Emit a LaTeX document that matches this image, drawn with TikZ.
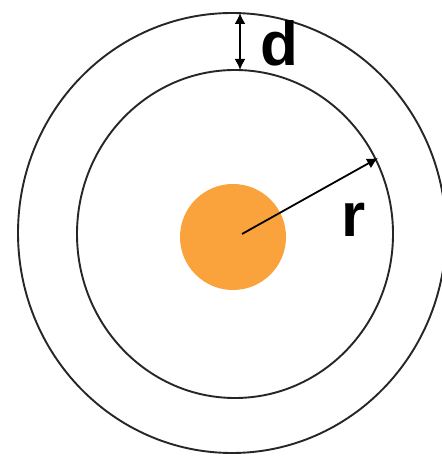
\documentclass[tikz,border=0pt]{standalone}
\usepackage{fontspec}
\setmainfont{Liberation Sans}
\usetikzlibrary{arrows.meta}
\definecolor{sunorange}{RGB}{250,162,60}
\tikzset{tipshape/.tip={Latex[length=11pt,width=11pt]}}
\begin{document}
\begin{tikzpicture}[x=1pt,y=1pt,
  ring/.style={draw=black!85,line width=1.9pt},
  measure/.style={draw=black,line width=1.8pt,-tipshape},
  lbl/.style={font=\bfseries\fontsize{62}{70}\selectfont,inner sep=0pt}]
\useasboundingbox (0,0) rectangle (441,457);
\fill[white] (0,0) rectangle (441,457);
% outer and inner rings
\draw[ring] (232,224) ellipse [x radius=214, y radius=220];
\draw[ring] (235,223) ellipse [x radius=158, y radius=164];
% central body
\fill[sunorange] (233,220) circle (53);
% coordinates
\coordinate (c) at (242,223);
\coordinate (rtip) at (378,299);
\coordinate (dtop) at (240,444);
\coordinate (dbot) at (240,387);
\draw[measure] (c) -- (rtip);
\draw[measure,tipshape-tipshape] (dbot) -- (dtop);
\node[lbl,anchor=base] (dlabel) at (279.5,391) {d};
\node[lbl,anchor=base] (rlabel) at (354,220) {r};
\end{tikzpicture}
\end{document}
